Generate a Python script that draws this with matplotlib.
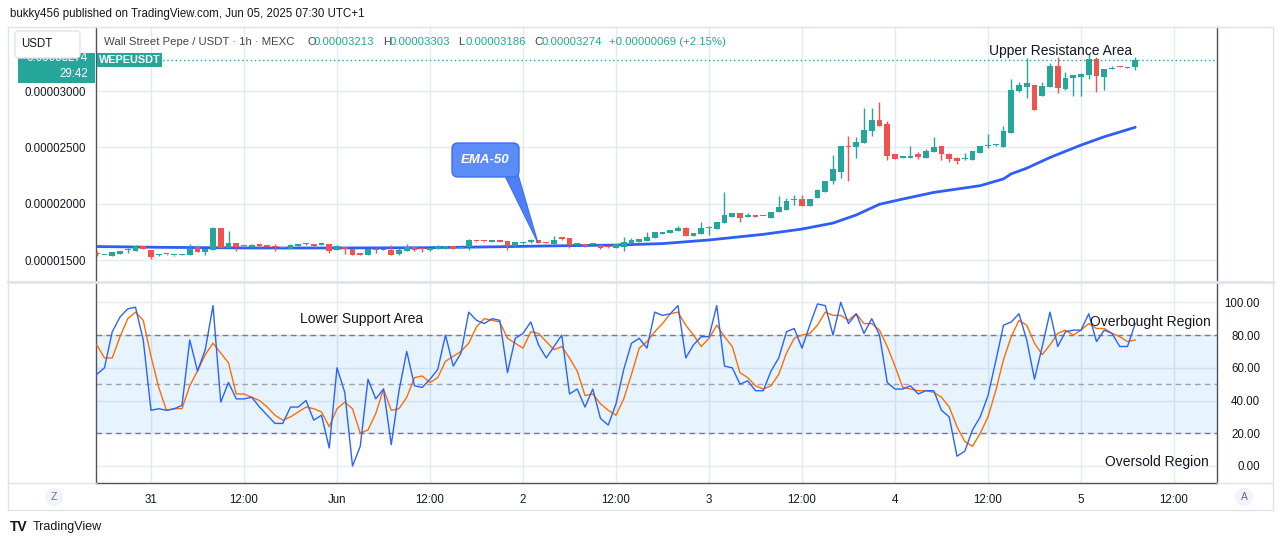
import numpy as np
import matplotlib
matplotlib.use("Agg")
import matplotlib.pyplot as plt
from matplotlib.patches import FancyBboxPatch, Rectangle, Circle, Polygon
from matplotlib.transforms import IdentityTransform
from matplotlib.ticker import FixedLocator, FuncFormatter

plt.rcParams['font.family'] = ['Liberation Sans', 'DejaVu Sans']

# ---------------- data (prices in units of 1e-8 USDT) ----------------
PRICE_UNIT = 1e-8
FIRST_HOUR = -7  # first candle: May 30 17:00 (hours relative to May 31 00:00)

opens = [1558, 1543, 1540, 1553, 1586, 1583, 1624, 1589, 1542, 1555,
         1542, 1548, 1547, 1615, 1574, 1591, 1784, 1609, 1651, 1626,
         1620, 1632, 1624, 1617, 1604, 1600, 1628, 1640, 1642, 1637,
         1639, 1591, 1618, 1600, 1553, 1547, 1591, 1589, 1589, 1556,
         1582, 1615, 1602, 1586, 1602, 1600, 1622, 1607, 1613, 1670,
         1670, 1664, 1668, 1666, 1624, 1648, 1664, 1675, 1655, 1645,
         1695, 1693, 1637, 1642, 1637, 1633, 1620, 1609, 1618, 1654,
         1662, 1671, 1698, 1735, 1742, 1760, 1781, 1716, 1731, 1785,
         1775, 1831, 1884, 1917, 1886, 1890, 1893, 1875, 1929, 1944,
         2032, 2041, 1980, 2050, 2106, 2201, 2284, 2510, 2506, 2542,
         2648, 2743, 2707, 2438, 2409, 2405, 2441, 2405, 2461, 2512,
         2438, 2408, 2395, 2392, 2453, 2510, 2518, 2506, 2630, 3000,
         3038, 3053, 2958, 3038, 3225, 3015, 3113, 3127, 3145, 3281,
         3127, 3193, 3218, 3205, 3213]
highs = [1580, 1548, 1573, 1582, 1604, 1633, 1628, 1591, 1550, 1557,
         1549, 1555, 1642, 1617, 1602, 1793, 1788, 1757, 1653, 1628,
         1639, 1639, 1626, 1639, 1611, 1640, 1642, 1651, 1646, 1651,
         1642, 1630, 1620, 1602, 1556, 1602, 1613, 1596, 1630, 1607,
         1645, 1618, 1604, 1609, 1636, 1627, 1624, 1615, 1684, 1673,
         1673, 1670, 1670, 1668, 1662, 1664, 1684, 1677, 1657, 1710,
         1697, 1695, 1646, 1644, 1646, 1635, 1622, 1642, 1701, 1695,
         1688, 1751, 1748, 1751, 1768, 1799, 1793, 1739, 1835, 1805,
         1837, 2106, 1919, 1919, 1915, 1892, 1895, 1925, 2068, 2053,
         2077, 2077, 2046, 2130, 2203, 2432, 2514, 2601, 2592, 2849,
         2849, 2905, 2734, 2440, 2416, 2516, 2461, 2485, 2592, 2514,
         2450, 2410, 2450, 2466, 2514, 2618, 2530, 2689, 3104, 3083,
         3291, 3055, 3083, 3251, 3304, 3166, 3144, 3160, 3330, 3304,
         3197, 3225, 3225, 3212, 3303]
lows = [1536, 1541, 1538, 1551, 1562, 1581, 1596, 1509, 1540, 1549,
        1540, 1546, 1545, 1572, 1547, 1589, 1607, 1607, 1580, 1620,
        1609, 1609, 1618, 1582, 1598, 1598, 1624, 1636, 1620, 1633,
        1566, 1585, 1556, 1545, 1547, 1545, 1562, 1587, 1545, 1547,
        1580, 1584, 1571, 1584, 1600, 1598, 1598, 1605, 1586, 1664,
        1664, 1662, 1662, 1586, 1622, 1646, 1648, 1649, 1649, 1643,
        1680, 1609, 1633, 1620, 1633, 1600, 1607, 1607, 1583, 1652,
        1660, 1669, 1696, 1733, 1740, 1758, 1714, 1714, 1729, 1722,
        1773, 1829, 1882, 1835, 1884, 1884, 1887, 1873, 1927, 1942,
        1986, 1976, 1978, 2048, 2104, 2175, 2225, 2204, 2406, 2540,
        2605, 2691, 2391, 2397, 2405, 2403, 2396, 2403, 2459, 2385,
        2370, 2349, 2385, 2390, 2451, 2494, 2515, 2504, 2628, 2988,
        2935, 2829, 2956, 3036, 2980, 3011, 2958, 2958, 3107, 2994,
        3009, 3191, 3209, 3200, 3186]
closes = [1555, 1546, 1571, 1580, 1590, 1624, 1598, 1527, 1546, 1551,
          1546, 1552, 1600, 1574, 1600, 1784, 1609, 1651, 1618, 1622,
          1624, 1628, 1620, 1613, 1608, 1636, 1632, 1644, 1624, 1641,
          1577, 1624, 1595, 1547, 1549, 1600, 1587, 1593, 1547, 1589,
          1615, 1586, 1598, 1607, 1606, 1624, 1600, 1611, 1678, 1666,
          1666, 1668, 1664, 1624, 1660, 1662, 1668, 1651, 1651, 1678,
          1691, 1633, 1641, 1622, 1641, 1609, 1616, 1639, 1657, 1678,
          1686, 1704, 1746, 1739, 1766, 1787, 1716, 1737, 1781, 1789,
          1835, 1899, 1917, 1875, 1890, 1886, 1889, 1923, 1970, 2026,
          2035, 1978, 2044, 2121, 2201, 2308, 2512, 2506, 2547, 2654,
          2743, 2693, 2423, 2399, 2413, 2426, 2414, 2467, 2503, 2438,
          2399, 2379, 2399, 2464, 2512, 2514, 2523, 2645, 3009, 3053,
          3068, 2831, 3044, 3225, 3024, 3113, 3142, 3151, 3284, 3136,
          3195, 3201, 3214, 3209, 3274]

# EMA-50 read at selected candle indices
ema_idx = [0, 8, 20, 30, 42, 52, 57, 67, 73, 79, 86, 91, 95, 98, 101,
           104, 108, 114, 117, 118, 120, 123, 127, 130, 134]
ema_val = [1620, 1613, 1607, 1607, 1609, 1618, 1624, 1633, 1646, 1678,
           1728, 1775, 1828, 1900, 1995, 2041, 2100, 2160, 2220, 2265,
           2315, 2410, 2520, 2594, 2678]

stoch_k = [56, 60, 82, 91, 96, 97, 77, 34, 35, 34,
           35, 37, 77, 58, 71, 98, 39, 51, 41, 41,
           42, 36, 31, 26, 26, 36, 36, 40, 28, 31,
           11, 60, 45, 0, 12, 53, 41, 47, 13, 46,
           70, 49, 48, 53, 59, 80, 61, 69, 94, 89,
           87, 90, 89, 57, 78, 81, 88, 74, 66, 73,
           80, 44, 47, 36, 47, 29, 25, 38, 59, 75,
           78, 72, 94, 92, 93, 98, 66, 74, 79, 79,
           98, 61, 60, 50, 52, 46, 46, 58, 66, 82,
           84, 72, 86, 99, 98, 80, 100, 87, 93, 81,
           90, 80, 51, 47, 47, 49, 44, 46, 46, 34,
           30, 6, 9, 22, 30, 43, 64, 86, 88, 93,
           77, 53, 73, 94, 73, 82, 83, 83, 93, 76,
           83, 81, 73, 73, 87]
stoch_d = [74, 66, 66, 79, 90, 94, 89, 67, 48, 34,
           35, 35, 49, 58, 68, 75, 69, 63, 44, 44,
           42, 40, 36, 31, 28, 30, 33, 36, 35, 33,
           24, 35, 39, 35, 20, 22, 32, 47, 34, 35,
           42, 54, 55, 51, 54, 64, 67, 70, 75, 85,
           90, 89, 88, 78, 75, 72, 82, 81, 76, 71,
           73, 66, 58, 43, 44, 38, 34, 31, 41, 56,
           72, 76, 82, 87, 93, 94, 86, 80, 73, 78,
           86, 79, 73, 57, 54, 49, 47, 49, 56, 69,
           78, 80, 81, 86, 94, 92, 92, 89, 93, 87,
           87, 83, 73, 61, 48, 47, 46, 46, 45, 42,
           36, 24, 15, 12, 20, 30, 46, 65, 79, 89,
           86, 75, 68, 74, 81, 83, 80, 83, 87, 84,
           84, 81, 79, 76, 77]

time_ticks = [0, 12, 24, 36, 48, 60, 72, 84, 96, 108, 120, 132]
time_labels = ["31", "12:00", "Jun", "12:00", "2", "12:00", "3", "12:00",
               "4", "12:00", "5", "12:00"]
price_ticks = [1500, 2000, 2500, 3000]
stoch_ticks = [0, 20, 40, 60, 80, 100]

# ---------------- styling ----------------
W, H = 1281, 546
UP, DN = '#26a69a', '#ef5350'
TXT = '#131722'
GRID = '#e3eaf1'
AXLINE = '#50535e'

fig = plt.figure(figsize=(W / 100, H / 100), dpi=100)
fig.patch.set_facecolor('white')


def fx(px):
    return px / W


def fy(py):
    return 1 - py / H


def box_px(x0, y0, x1, y1, **kw):
    p = Rectangle((x0, H - y1), x1 - x0, y1 - y0, transform=IdentityTransform(), **kw)
    fig.patches.append(p)
    return p


def text_px(x, y, s, **kw):
    kw.setdefault('va', 'center')
    kw.setdefault('color', TXT)
    return fig.text(fx(x), fy(y), s, **kw)


XL = (-7.097, 137.55)
ax1 = fig.add_axes([fx(96), fy(281), fx(1217) - fx(96), fy(27) - fy(281)])
ax2 = fig.add_axes([fx(96), fy(483), fx(1217) - fx(96), fy(283) - fy(483)])

t = np.arange(len(opens)) + FIRST_HOUR
o = np.array(opens) * PRICE_UNIT
hi = np.array(highs) * PRICE_UNIT
lo = np.array(lows) * PRICE_UNIT
c = np.array(closes) * PRICE_UNIT
up = c >= o
cols = np.where(up, UP, DN)

# ---- price pane ----
ax1.set_xlim(*XL)
ax1.set_ylim(1314 * PRICE_UNIT, 3568 * PRICE_UNIT)
ax1.vlines(t, lo, hi, colors=cols, lw=1.0, zorder=3)
body_lo = np.minimum(o, c)
body_h = np.maximum(np.abs(c - o), 10 * PRICE_UNIT)
ax1.bar(t, body_h, bottom=body_lo, width=0.74, color=cols, linewidth=0, zorder=4)
ax1.plot(np.array(ema_idx) + FIRST_HOUR, np.array(ema_val) * PRICE_UNIT,
         color='#2d5ff5', lw=2.0, zorder=2, solid_capstyle='round')
ax1.axhline(closes[-1] * PRICE_UNIT, color=UP, lw=1.0, ls=(0, (1, 2)), zorder=2)

ax1.yaxis.set_major_locator(FixedLocator([v * PRICE_UNIT for v in price_ticks]))
ax1.yaxis.set_major_formatter(FuncFormatter(lambda v, p: f"{v:.8f}"))
ax1.xaxis.set_major_locator(FixedLocator(time_ticks))
ax1.tick_params(axis='x', length=0, labelbottom=False)
ax1.tick_params(axis='y', length=0, labelsize=8.3, labelcolor=TXT, pad=7)
ax1.grid(True, color=GRID, lw=1.0, zorder=0)
ax1.set_axisbelow(True)
for s in ['top', 'bottom']:
    ax1.spines[s].set_visible(False)
for s in ['left', 'right']:
    ax1.spines[s].set_color(AXLINE)
    ax1.spines[s].set_linewidth(1.0)

# ---- stochastic pane ----
ax2.set_xlim(*XL)
ax2.set_ylim(-10.4, 111.8)
ax2.axhspan(20, 80, color='#2196f3', alpha=0.10, lw=0, zorder=1)
ax2.axhline(80, color='#787b86', lw=1.0, ls=(0, (4, 3)), zorder=2)
ax2.axhline(50, color='#9fa2ab', lw=1.0, ls=(0, (4, 3)), zorder=2)
ax2.axhline(20, color='#787b86', lw=1.0, ls=(0, (4, 3)), zorder=2)
ax2.plot(t, stoch_k, color='#2962ff', lw=1.0, zorder=4)
ax2.plot(t, stoch_d, color='#ff6d00', lw=1.0, zorder=3)
ax2.yaxis.tick_right()
ax2.yaxis.set_major_locator(FixedLocator(stoch_ticks))
ax2.yaxis.set_major_formatter(FuncFormatter(lambda v, p: f"{v:.2f}"))
ax2.tick_params(axis='y', length=0, labelsize=8.3, labelcolor=TXT, pad=31)
for lab in ax2.get_yticklabels():
    lab.set_horizontalalignment('right')
ax2.xaxis.set_major_locator(FixedLocator(time_ticks))
ax2.set_xticklabels(time_labels)
ax2.tick_params(axis='x', length=0, labelsize=8.3, labelcolor=TXT, pad=8)
ax2.grid(True, color=GRID, lw=1.0, zorder=0)
ax2.set_axisbelow(True)
ax2.spines['top'].set_visible(False)
for s in ['left', 'right', 'bottom']:
    ax2.spines[s].set_color(AXLINE)
    ax2.spines[s].set_linewidth(1.0)

# ---- frame & separators ----
fig.add_artist(plt.Line2D([fx(8), fx(1273)], [fy(27), fy(27)], color='#e0e3eb', lw=1))
fig.add_artist(plt.Line2D([fx(8), fx(1273)], [fy(510), fy(510)], color='#e0e3eb', lw=1))
fig.add_artist(plt.Line2D([fx(8), fx(8)], [fy(27), fy(510)], color='#e0e3eb', lw=1))
fig.add_artist(plt.Line2D([fx(1273), fx(1273)], [fy(27), fy(510)], color='#e0e3eb', lw=1))
fig.add_artist(plt.Line2D([fx(8), fx(1273)], [fy(282), fy(282)], color='#e0e3eb', lw=2))
fig.add_artist(plt.Line2D([fx(8), fx(96)], [fy(483), fy(483)], color='#e0e3eb', lw=1))
fig.add_artist(plt.Line2D([fx(1217), fx(1273)], [fy(483), fy(483)], color='#e0e3eb', lw=1))

# ---- header texts ----
text_px(10, 14, "bukky456 published on TradingView.com, Jun 05, 2025 07:30 UTC+1",
        fontsize=8.3, ha='left')
text_px(104, 42, "Wall Street Pepe / USDT \u00b7 1h \u00b7 MEXC", fontsize=8.2, ha='left',
        color='#434651')
hdr = [(307, "O", "0.00003213"), (383, "H", "0.00003303"), (458, "L", "0.00003186"),
       (534, "C", "0.00003274")]
for x, k, v in hdr:
    text_px(x, 42, k, fontsize=8.2, ha='left', color='#434651')
    text_px(x + 7, 42, v, fontsize=8.2, ha='left', color=UP)
text_px(609, 42, "+0.00000069 (+2.15%)", fontsize=8.2, ha='left', color=UP)

# ---- left price tag & USDT box ----
box_px(18, 53, 95, 83, facecolor=UP, edgecolor='none', zorder=1)
text_px(88, 58, "0.00003274", fontsize=8.3, ha='right', color='white', zorder=2)
text_px(88, 74, "29:42", fontsize=8.3, ha='right', color='white', zorder=2)
ub = FancyBboxPatch((15, H - 58), 65, 27, boxstyle="round,pad=0,rounding_size=4",
                    transform=IdentityTransform(), facecolor='white', edgecolor='#e0e3eb',
                    lw=1, zorder=5)
fig.patches.append(ub)
text_px(37, 44, "USDT", fontsize=8.3, ha='center', zorder=6)

# WEPEUSDT tag
box_px(97, 53, 162, 67, facecolor=UP, edgecolor='none')
text_px(129.5, 60, "WEPEUSDT", fontsize=7.8, ha='center', color='white', fontweight='bold')

# ---- annotations ----
text_px(1061, 51, "Upper Resistance Area", fontsize=10, ha='center')
text_px(362, 319, "Lower Support Area", fontsize=10, ha='center')
text_px(1150, 322, "Overbought Region", fontsize=10, ha='center')
text_px(1157, 462, "Oversold Region", fontsize=10, ha='center')

# EMA-50 callout
tail = Polygon([(505, H - 176), (517, H - 171), (538, H - 243)], closed=True,
               transform=IdentityTransform(), facecolor='#4f7ff7', edgecolor='#3d6ef0', lw=0.8)
fig.patches.append(tail)
cb = FancyBboxPatch((452, H - 177), 67, 34, boxstyle="round,pad=0,rounding_size=6",
                    transform=IdentityTransform(), facecolor='#5b8cf8', edgecolor='#3d6ef0', lw=1)
fig.patches.append(cb)
text_px(485.5, 160, "EMA-50", fontsize=9.5, ha='center', color='white',
        fontweight='bold', fontstyle='italic')

# ---- axis corner buttons ----
for cx, letter in [(54, "Z"), (1244, "A")]:
    fig.patches.append(Circle((cx, H - 497), 9, transform=IdentityTransform(),
                              facecolor='#f0f3fa', edgecolor='none'))
    text_px(cx, 497, letter, fontsize=7.5, ha='center', color='#6a6d78')

# ---- TradingView logo ----
text_px(10, 527, "TV", fontsize=10, ha='left', fontweight='heavy', color=TXT)
text_px(33, 527, "TradingView", fontsize=9, ha='left', color=TXT)

fig.savefig("out.png", dpi=100, facecolor='white')
